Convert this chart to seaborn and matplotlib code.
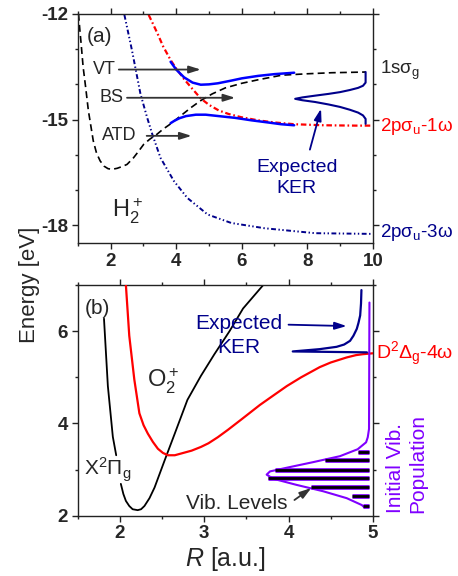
import numpy as np
import matplotlib
matplotlib.use('Agg')
import matplotlib.pyplot as plt
import seaborn as sns
from matplotlib.ticker import MultipleLocator
import matplotlib.transforms as mtrans

# ---------------- data ----------------
# (a) H2+ potential curves, R in a.u., E in eV
sg_R = [1.02, 1.06, 1.1, 1.16, 1.24, 1.32, 1.4, 1.47, 1.57, 1.68, 1.8, 1.92, 2.04, 2.2, 2.35,
        2.5, 2.7, 2.85, 3.01, 3.2, 3.42, 3.6, 3.83, 4.14, 4.45, 4.75, 5.1, 5.5, 6.0, 6.5,
        7.22, 8.0, 8.75, 9.3, 9.78]
sg_E = [-12.0, -12.45, -12.85, -13.5, -14.1, -14.74, -15.2, -15.6, -15.95, -16.17, -16.32,
        -16.39, -16.41, -16.38, -16.33, -16.27, -16.08, -15.9, -15.7, -15.55, -15.41, -15.27,
        -15.12, -14.89, -14.66, -14.46, -14.27, -14.1, -13.97, -13.87, -13.74, -13.7, -13.67,
        -13.66, -13.65]

pu1_R = [3.16, 3.3, 3.45, 3.6, 3.83, 4.0, 4.24, 4.45, 4.75, 5.0, 5.3, 5.6, 5.98, 6.5, 7.0,
         7.6, 8.5, 9.5, 10.0]
pu1_E = [-12.03, -12.3, -12.6, -12.92, -13.31, -13.55, -13.85, -14.08, -14.4, -14.58, -14.74,
         -14.84, -14.93, -15.02, -15.08, -15.13, -15.16, -15.17, -15.17]

pu3_R = [2.42, 2.65, 2.91, 3.11, 3.27, 3.52, 3.93, 4.34, 4.96, 5.68, 6.7, 8.24, 10.0]
pu3_E = [-12.03, -13.03, -14.27, -14.93, -15.41, -16.08, -16.74, -17.22, -17.69, -17.93,
         -18.08, -18.22, -18.24]

vt_R = [3.83, 4.0, 4.24, 4.5, 4.75, 5.0, 5.27, 5.7, 6.0, 6.5, 7.0, 7.6]
vt_E = [-13.36, -13.58, -13.8, -13.95, -14.01, -14.0, -13.97, -13.89, -13.83, -13.76, -13.71, -13.67]

bs_R = [3.83, 3.95, 4.1, 4.3, 4.6, 4.9, 5.3, 5.8, 6.3, 6.8, 7.2, 7.6]
bs_E = [-15.1, -15.03, -14.96, -14.9, -14.86, -14.86, -14.9, -14.95, -15.02, -15.08, -15.13, -15.16]

kerA_R = [9.78, 9.78, 9.7, 9.55, 9.3, 9.0, 8.65, 8.24, 7.85, 7.63, 7.85, 8.24, 8.65, 9.0, 9.3,
          9.55, 9.7, 9.78, 9.78]
kerA_E = [-13.65, -13.95, -14.04, -14.1, -14.16, -14.22, -14.27, -14.32, -14.37, -14.41, -14.45,
          -14.5, -14.57, -14.64, -14.72, -14.8, -14.88, -14.98, -15.12]

# (b) O2+ curves
x2pi_up_R = [1.81, 1.856, 1.915, 1.955]
x2pi_up_E = [6.27, 4.81, 3.71, 3.31]
x2pi_lo_R = [2.01, 2.04, 2.07, 2.11, 2.15, 2.21, 2.25, 2.29, 2.35, 2.41, 2.53, 2.65, 2.8,
             2.96, 3.12, 3.3, 3.46, 3.7]
x2pi_lo_E = [2.69, 2.47, 2.32, 2.21, 2.14, 2.12, 2.14, 2.21, 2.38, 2.61, 3.2, 3.78, 4.51,
             5.03, 5.5, 6.0, 6.49, 7.0]

d2_R = [2.07, 2.11, 2.17, 2.23, 2.28, 2.33, 2.39, 2.45, 2.51, 2.57, 2.65, 2.73, 2.85, 2.96,
        3.05, 3.16, 3.28, 3.45, 3.66, 3.8, 3.98, 4.15, 4.37, 4.5, 4.69, 4.8, 4.88, 5.0]
d2_E = [7.0, 5.9, 4.95, 4.22, 3.96, 3.78, 3.6, 3.45, 3.36, 3.31, 3.31, 3.35, 3.41, 3.49,
        3.57, 3.7, 3.86, 4.1, 4.4, 4.58, 4.81, 5.0, 5.22, 5.32, 5.43, 5.48, 5.5, 5.52]

kerB_R = [4.865, 4.86, 4.85, 4.83, 4.81, 4.77, 4.73, 4.66, 4.57, 4.37, 4.05, 4.93]
kerB_E = [6.89, 6.6, 6.34, 6.18, 6.05, 5.9, 5.79, 5.71, 5.66, 5.61, 5.56, 5.54]

pop_R = [4.96, 4.955, 4.94, 4.92, 4.82, 4.61, 4.29, 3.98, 3.78, 3.74, 3.82, 4.09, 4.41, 4.69,
         4.87, 4.9]
pop_E = [6.62, 3.88, 3.7, 3.59, 3.44, 3.29, 3.16, 3.04, 2.96, 2.89, 2.8, 2.67, 2.53, 2.38,
         2.23, 2.18]

vib_E = [3.38, 3.2, 3.0, 2.81, 2.63, 2.43, 2.22]
vib_left = [4.83, 4.43, 3.84, 3.76, 4.27, 4.75, 4.88]
vib_right = [4.96] * 7

# tick labels
a_xticks = [2, 4, 6, 8, 10]
a_yticks = [-18, -15, -12]
a_yticklabels = ['-18', '-15', '-12']
b_xticks = [2, 3, 4, 5]
b_yticks = [2, 4, 6]

# ---------------- style ----------------
sns.set_style('ticks')
plt.rcParams['font.family'] = ['Liberation Sans', 'DejaVu Sans']
plt.rcParams['mathtext.fontset'] = 'custom'
plt.rcParams['mathtext.rm'] = 'Liberation Sans'
plt.rcParams['mathtext.it'] = 'Liberation Sans:italic'
plt.rcParams['mathtext.bf'] = 'Liberation Sans:bold'
plt.rcParams['mathtext.default'] = 'regular'
plt.rcParams['lines.scale_dashes'] = False

RED = '#FF0000'
BLUE = '#0000FF'
NAVY = '#00008B'
PURPLE = '#8000FF'
ARROW = '#333333'

DASH = (0, (5, 3))
DASHDOT = (0, (4, 2, 1.2, 2))
DASHDOTDOT = (0, (3.5, 1.8, 1, 1.8, 1, 1.8))


def curve(ax, R, E, color, lw=1.3, ls='-', z=2):
    sns.lineplot(x=np.array(R), y=np.array(E), ax=ax, color=color, linewidth=lw,
                 linestyle=ls, sort=False, estimator=None, legend=False, zorder=z)


def arrow(ax, tail, head, color=ARROW):
    ax.annotate('', xy=head, xytext=tail,
                arrowprops=dict(arrowstyle='-|>,head_length=0.7,head_width=0.22',
                                color=color, lw=1.3, shrinkA=0, shrinkB=0))


def style_axes(ax, xt, xtl, yt, ytl):
    ax.set_xticks(xt)
    ax.set_xticklabels(xtl, fontweight='bold', fontsize=13.5)
    ax.set_yticks(yt)
    ax.set_yticklabels(ytl, fontweight='bold', fontsize=13.5)
    ax.tick_params(which='both', direction='out', top=True, right=True,
                   labeltop=False, labelright=False, color='#222222')
    ax.tick_params(which='major', length=4.5, width=1, pad=2.5)
    ax.tick_params(which='minor', length=2.5, width=1)
    for s in ax.spines.values():
        s.set_linewidth(1)
        s.set_color('#222222')
    ax.set_xlabel('')
    ax.set_ylabel('')


fig = plt.figure(figsize=(4.58, 5.76), dpi=100)
ax1 = fig.add_axes([0.170, 0.578, 0.644, 0.398])
ax2 = fig.add_axes([0.170, 0.1047, 0.644, 0.4005])

# ---------------- panel (a) ----------------
curve(ax1, sg_R, sg_E, 'black', 1.2, DASH)
curve(ax1, pu1_R, pu1_E, RED, 1.6, DASHDOT)
curve(ax1, pu3_R, pu3_E, NAVY, 1.4, DASHDOTDOT)
curve(ax1, vt_R, vt_E, BLUE, 1.8, '-', 3)
curve(ax1, bs_R, bs_E, BLUE, 1.8, '-', 3)
curve(ax1, kerA_R, kerA_E, NAVY, 1.5, '-', 3)

ax1.set_xlim(1, 10)
ax1.set_ylim(-18.5, -12)
style_axes(ax1, a_xticks, [str(t) for t in a_xticks], a_yticks, a_yticklabels)
ax1.xaxis.set_minor_locator(MultipleLocator(1))
ax1.yaxis.set_minor_locator(MultipleLocator(1))

arrow(ax1, (2.25, -13.58), (4.75, -13.58))
arrow(ax1, (2.5, -14.38), (5.8, -14.38))
arrow(ax1, (3.1, -15.46), (4.47, -15.46))
ax1.text(2.15, -13.58, 'VT', ha='right', va='center', fontsize=13)
ax1.text(2.4, -14.38, 'BS', ha='right', va='center', fontsize=13)
ax1.text(2.78, -15.46, 'ATD', ha='right', va='center', fontsize=13)

arrow(ax1, (8.08, -15.85), (8.42, -14.69), NAVY)
ax1.text(7.68, -16.65, 'Expected\nKER', ha='center', va='center', color=NAVY,
         fontsize=14, linespacing=1.35)

ax1.text(1.28, -12.63, '(a)', ha='left', va='center', fontsize=15)
ax1.text(2.05, -17.6, r'H$_2^+$', ha='left', va='center', fontsize=17)

trA = mtrans.blended_transform_factory(ax1.transAxes, ax1.transData)
ax1.text(1.025, -13.6, r'1s$\sigma_g$', transform=trA, ha='left', va='center',
         fontsize=13.5, clip_on=False)
ax1.text(1.025, -15.2, r'2p$\sigma_u$-1$\omega$', transform=trA, ha='left', va='center',
         fontsize=13.5, color=RED, clip_on=False)
ax1.text(1.025, -18.2, r'2p$\sigma_u$-3$\omega$', transform=trA, ha='left', va='center',
         fontsize=13.5, color=NAVY, clip_on=False)

# ---------------- panel (b) ----------------
curve(ax2, x2pi_up_R, x2pi_up_E, 'black', 1.3)
curve(ax2, x2pi_lo_R, x2pi_lo_E, 'black', 1.3)
curve(ax2, d2_R, d2_E, RED, 1.6, '-', 3)
curve(ax2, kerB_R, kerB_E, NAVY, 1.6, '-', 3)
curve(ax2, pop_R, pop_E, PURPLE, 1.5, '-', 3)
ax2.hlines(vib_E, vib_left, vib_right, colors=PURPLE, linewidth=3.4, zorder=4)
ax2.hlines(vib_E, vib_left, vib_right, colors='black', linewidth=2.0, zorder=5)

ax2.set_xlim(1.5, 5)
ax2.set_ylim(2, 7)
style_axes(ax2, b_xticks, [str(t) for t in b_xticks], b_yticks, [str(t) for t in b_yticks])
ax2.xaxis.set_minor_locator(MultipleLocator(0.5))
ax2.yaxis.set_minor_locator(MultipleLocator(1))
ax2.set_xlabel(r'$\mathit{R}$ [a.u.]', fontsize=18, labelpad=2)

ax2.text(1.58, 6.49, '(b)', ha='left', va='center', fontsize=15)
ax2.text(2.32, 4.92, r'O$_2^+$', ha='left', va='center', fontsize=17)
ax2.text(1.57, 3.0, r'X$^2\Pi_g$', ha='left', va='center', fontsize=15)
ax2.text(3.38, 2.27, 'Vib. Levels', ha='center', va='center', fontsize=15)
arrow(ax2, (4.07, 2.34), (4.27, 2.6))

arrow(ax2, (4.0, 6.14), (4.69, 6.11), NAVY)
ax2.text(3.41, 5.91, 'Expected\nKER', ha='center', va='center', color=NAVY,
         fontsize=15, linespacing=1.3)

trB = mtrans.blended_transform_factory(ax2.transAxes, ax2.transData)
ax2.text(1.01, 5.5, r'D$^2\Delta_g$-4$\omega$', transform=trB, ha='left', va='center',
         fontsize=14, color=RED, clip_on=False)
ax2.text(1.115, 2.06, 'Initial Vib.\nPopulation', transform=trB, rotation=90,
         ha='center', va='bottom', multialignment='left', fontsize=15, color=PURPLE,
         clip_on=False)

fig.text(0.064, 0.505, 'Energy [eV]', rotation=90, ha='center', va='center', fontsize=16)

fig.savefig('out.png', dpi=100)
